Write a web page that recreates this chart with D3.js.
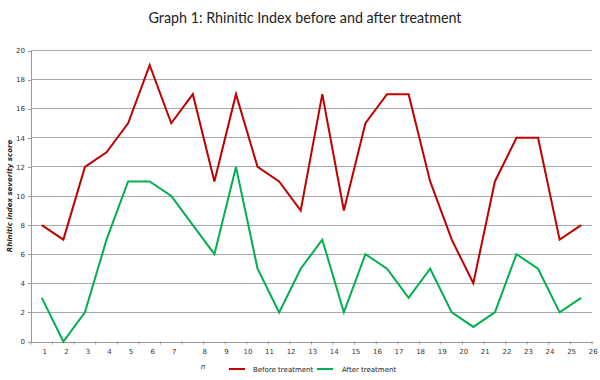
<!DOCTYPE html>
<html><head><meta charset="utf-8">
<script src="https://cdn.jsdelivr.net/npm/d3@7"></script>
<style>body{margin:0;background:#fff}svg{display:block}</style>
</head><body>
<svg id="c" width="600" height="380"></svg>
<script>
const categories = d3.range(1, 27).map(String);
const before = [8, 7, 12, 13, 15, 19, 15, 17, 11, 17, 12, 11, 9, 17, 9, 15, 17, 17, 11, 7, 4, 11, 14, 14, 7, 8];
const after  = [3, 0, 2, 7, 11, 11, 10, 8, 6, 12, 5, 2, 5, 7, 2, 6, 5, 3, 5, 2, 1, 2, 6, 5, 2, 3];
const yTicks = [0, 2, 4, 6, 8, 10, 12, 14, 16, 18, 20];
const seriesNames = ["Before treatment", "After treatment"];
const colors = ["#C00000", "#00B050"];

const svg = d3.select("#c");
const m = {l: 31, r: 592, t: 50.5, b: 341.5};
const x = d3.scaleBand().domain(categories).range([m.l, m.r]);
const y = d3.scaleLinear().domain([0, 20]).range([m.b, m.t]);

// gridlines
svg.append("g").selectAll("line").data(yTicks.filter(d => d > 0)).join("line")
  .attr("x1", m.l).attr("x2", m.r).attr("y1", d => y(d)).attr("y2", d => y(d))
  .attr("stroke", "#aaaaaa").attr("stroke-width", 1).attr("shape-rendering", "crispEdges");

// y axis
const ya = svg.append("g").attr("transform", `translate(${m.l},0)`)
  .call(d3.axisLeft(y).tickValues(yTicks).tickSize(3).tickPadding(3));
ya.selectAll("path,line").attr("stroke", "#999").attr("shape-rendering", "crispEdges");
ya.selectAll("text").attr("font-family", "DejaVu Sans, sans-serif").attr("font-size", 7).attr("fill", "#333");

// x axis
const xa = svg.append("g").attr("transform", `translate(0,${m.b})`)
  .call(d3.axisBottom(x).tickSize(0).tickPadding(8));
xa.select("path").attr("stroke", "#999").attr("shape-rendering", "crispEdges");
xa.selectAll("text").attr("font-family", "DejaVu Sans, sans-serif").attr("font-size", 7).attr("fill", "#333")
  .attr("dx", (d, i) => i < 7 ? 3 : 12);
// x tick marks at band edges
svg.append("g").selectAll("line").data(categories.concat(["_end"])).join("line")
  .attr("x1", (d, i) => m.l + i * x.step()).attr("x2", (d, i) => m.l + i * x.step())
  .attr("y1", m.b).attr("y2", m.b + 3).attr("stroke", "#999");

// lines
const line = d3.line().x((d, i) => x(categories[i]) + x.bandwidth() / 2).y(d => y(d));
[before, after].forEach((s, k) => {
  svg.append("path").datum(s).attr("d", line).attr("fill", "none")
    .attr("stroke", colors[k]).attr("stroke-width", 2).attr("stroke-linejoin", "miter");
});

// title
svg.append("text").attr("x", 305).attr("y", 23).attr("text-anchor", "middle")
  .attr("font-family", "Lato, sans-serif").attr("font-size", 15).attr("fill", "#222")
  .attr("textLength", 313).attr("lengthAdjust", "spacingAndGlyphs")
  .text("Graph 1: Rhinitic Index before and after treatment");

// y label
svg.append("text").attr("transform", "translate(12,196) rotate(-90)").attr("text-anchor", "middle")
  .attr("font-family", "DejaVu Sans, sans-serif").attr("font-size", 7).attr("font-style", "italic")
  .attr("font-weight", "bold").attr("fill", "#222").text("Rhinitic index severity score");

// x label
svg.append("text").attr("x", 203).attr("y", 369).attr("text-anchor", "middle")
  .attr("font-family", "DejaVu Sans, sans-serif").attr("font-size", 7).attr("font-style", "italic")
  .attr("fill", "#222").text("n");

// legend
const lg = [{x: 229, tx: 253}, {x: 317, tx: 342}];
seriesNames.forEach((n, k) => {
  svg.append("line").attr("x1", lg[k].x).attr("x2", lg[k].x + 16).attr("y1", 369).attr("y2", 369)
    .attr("stroke", colors[k]).attr("stroke-width", 2);
  svg.append("text").attr("x", lg[k].tx).attr("y", 372)
    .attr("font-family", "DejaVu Sans, sans-serif").attr("font-size", 7).attr("fill", "#222").text(n);
});
</script>
</body></html>
